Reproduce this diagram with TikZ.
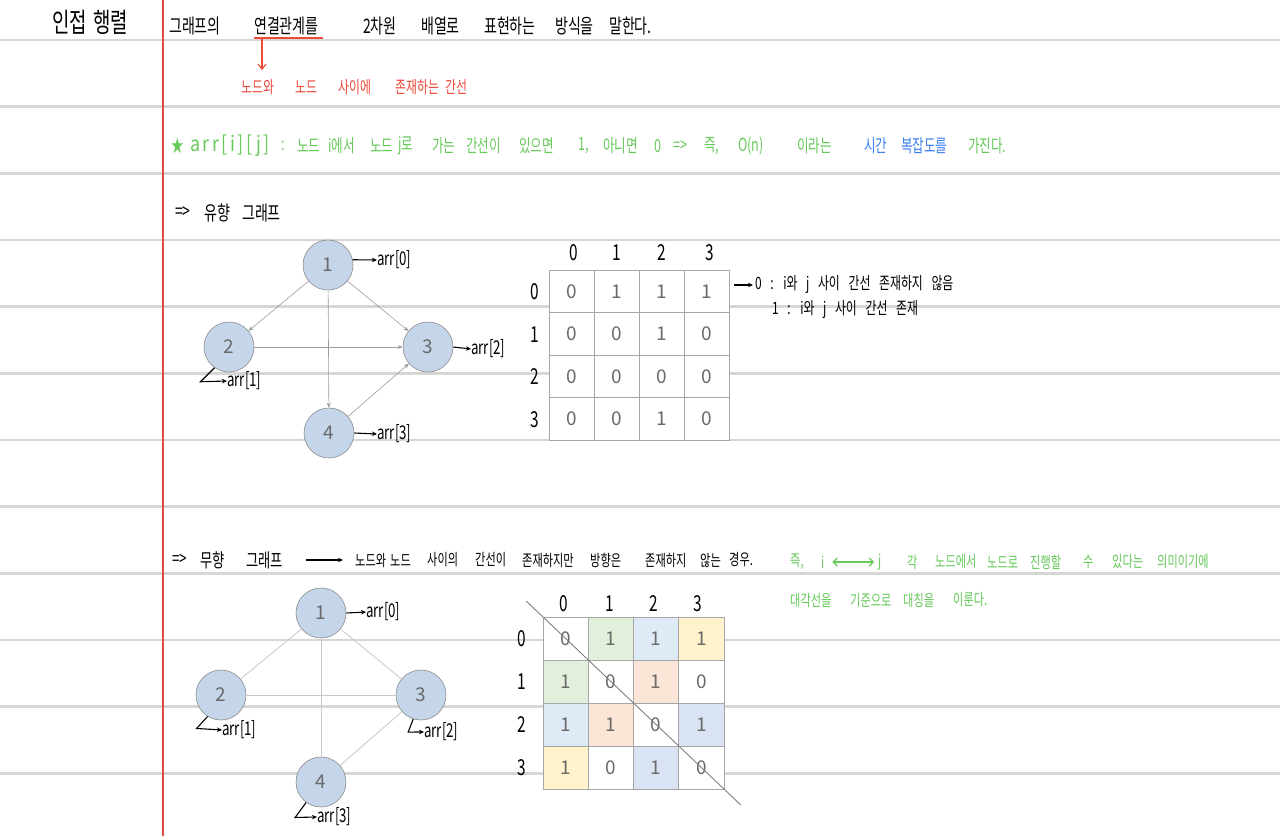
\documentclass[tikz,border=0pt]{standalone}
\usepackage{fontspec}
\setmainfont{Noto Sans CJK KR}
\newfontfamily\hand[FakeStretch=0.7]{Noto Sans CJK KR}
\newfontfamily\handsp[FakeStretch=0.7,WordSpace=1.8]{Noto Sans CJK KR}
\newfontfamily\handwide[FakeStretch=0.85,LetterSpace=12]{Noto Sans CJK KR}
\usetikzlibrary{arrows.meta,calc}

\definecolor{ruleline}{HTML}{D6D6D6}
\definecolor{margin}{HTML}{E04B3C}
\definecolor{notered}{HTML}{EE4A3A}
\definecolor{notegreen}{HTML}{66C95A}
\definecolor{noteblue}{HTML}{3C7FF0}
\definecolor{nodefill}{HTML}{C5D6EA}
\definecolor{nodeline}{HTML}{8C8C8C}
\definecolor{numgray}{HTML}{6A6A6A}
\definecolor{edgegray}{HTML}{9C9C9C}
\definecolor{ledgegray}{HTML}{C8C8C8}
\definecolor{cellline}{HTML}{A6A6A6}
\definecolor{cgreen}{HTML}{E2EFDA}
\definecolor{cblue}{HTML}{DEEBF7}
\definecolor{cyellow}{HTML}{FFF2CC}
\definecolor{cpeach}{HTML}{FBE5D6}
\definecolor{clav}{HTML}{DAE3F3}

\begin{document}
\begin{tikzpicture}[x=1pt,y=-1pt,
  ruled/.style={ruleline, line width=2.5pt},
  word/.style={anchor=west, inner sep=0pt},
  gnode/.style={circle, fill=nodefill, draw=nodeline, line width=0.6pt, minimum size=50pt, inner sep=0pt, text=numgray, font=\fontsize{19}{19}\selectfont},
  cell/.style={draw=cellline, line width=0.8pt, fill=white, text=numgray, inner sep=0pt, font=\fontsize{19}{19}\selectfont},
  idx/.style={inner sep=0pt, font=\hand\fontsize{22}{22}\selectfont},
  arrlbl/.style={anchor=west, inner sep=0pt, font=\hand\fontsize{19}{19}\selectfont},
  tag/.style={line width=1.1pt, -{Stealth[length=5pt,width=4.5pt]}},
  dedge/.style={draw=edgegray, line width=0.6pt, -{Stealth[length=5pt,width=4pt]}},
  uedge/.style={draw=ledgegray, line width=0.8pt}]

\useasboundingbox (0,0) rectangle (1280,836);
\fill[white] (0,0) rectangle (1280,836);

%%%%%%%%% notebook lines
\foreach[evaluate={\y=40+66.667*\k}] \k in {0,...,11}
	\draw[ruled] (0,\y) -- (1280,\y);
\draw[margin, line width=2.5pt] (163,0) -- (163,836);

%%%%%%%%% title + first line
\foreach \x/\w [count=\i] in {52/인접, 93/행렬}
	\node[word, font=\hand\fontsize{27}{27}\selectfont] (ttl\i) at (\x,22) {\w};
\foreach \x/\w [count=\i] in {169/그래프의, 254/연결관계를, 363/2차원, 421/배열로, 484/표현하는, 555/방식을, 609/말한다.}
	\node[word, font=\hand\fontsize{20}{20}\selectfont] (ln\i) at (\x,26) {\w};

%%% red note
\coordinate (ul1) at (254,38);
\coordinate (ul2) at (323,38);
\coordinate (ua) at (262,39);
\coordinate (ub) at (262,70);
\draw[notered, line width=1.1pt] (ul1) -- (ul2);
\draw[notered, line width=1.1pt, -{Straight Barb[length=5pt,width=8pt]}] (ua) -- (ub);
\foreach \x/\w [count=\i] in {241/노드와, 295/노드, 338/사이에, 395/존재하는, 445/간선}
	\node[word, text=notered, font=\hand\fontsize{17}{17}\selectfont] (rd\i) at (\x,87) {\w};

%%%%%%%%% green line
\node[word, text=notegreen, font=\handwide\fontsize{21}{21}\selectfont] (arrij) at (190,146) {arr[i][j]};
\foreach \x/\w [count=\i] in {171/★, 281/:, 297/노드, 328/i에서, 370/노드, 398/j로, 432/가는, 466/간선이, 519/있으면, 578/{1,}, 603/아니면, 654/0, 673/=>, 704/{즉,}, 738/O(n), 797/이라는}
	\node[word, text=notegreen, font=\hand\fontsize{18}{18}\selectfont] (gr\i) at (\x,146) {\w};
\node[word, text=noteblue, font=\hand\fontsize{18}{18}\selectfont] (bl1) at (864,146) {시간};
\node[word, text=noteblue, font=\hand\fontsize{18}{18}\selectfont] (bl2) at (901,146) {복잡도를};
\node[word, text=notegreen, font=\hand\fontsize{18}{18}\selectfont] (gr17) at (968,146) {가진다.};

%%%%%%%%% directed graph
\foreach \x/\w [count=\i] in {175/=>, 204/유향, 242/그래프}
	\node[word, font=\hand\fontsize{20}{20}\selectfont] (dh\i) at (\x,213) {\w};

\node[gnode] (t1) at (328,265) {1};
\node[gnode] (t2) at (229,347) {2};
\node[gnode] (t3) at (428,347) {3};
\node[gnode] (t4) at (329,433) {4};
\draw[dedge] (t1) -- (t2);
\draw[dedge] (t1) -- (t3);
\draw[dedge] (t1) -- (t4);
\draw[dedge] (t2) -- (t3);
\draw[dedge] (t4) -- (t3);

\node[arrlbl] (a0) at (377,260) {arr[0]};
\node[arrlbl] (a1) at (227,381) {arr[1]};
\node[arrlbl] (a2) at (471,349) {arr[2]};
\node[arrlbl] (a3) at (377,434) {arr[3]};
\draw[tag] (t1.12) -- (a0.west);
\draw[tag] (t2.235) -- ++(-14,14) -- (a1.west);
\draw[tag] (t3.east) -- (a2.west);
\draw[tag] (t4.east) -- (a3.west);

%%% matrix 1
\foreach \row [count=\r from 0] in {{0,1,1,1},{0,0,1,0},{0,0,0,0},{0,0,1,0}}
\foreach \v [count=\c from 0] in \row
	\node[cell, minimum width=45pt, minimum height=42.5pt] (p\r\c) at ({549+45*(\c+0.5)},{270+42.5*(\r+0.5)}) {\v};
\foreach \x/\t in {574/0, 617/1, 662/2, 710/3}
	\node[idx] (pc\t) at (\x,253) {\t};
\foreach \y/\t in {292/0, 335/1, 377/2, 420/3}
	\node[idx] (pr\t) at (535,\y) {\t};

\node[word, font=\handsp\fontsize{17}{17}\selectfont] (n0) at (755,285) {0 : i와 j 사이 간선 존재하지 않음};
\node[word, font=\handsp\fontsize{17}{17}\selectfont] (n1) at (772,310) {1 : i와 j 사이 간선 존재};
\draw[tag] ([xshift=5pt]p03.east |- n0.west) -- ([xshift=-2pt]n0.west);

%%%%%%%%% undirected graph
\foreach \x/\w [count=\i] in {172/=>, 200/무향, 246/그래프}
	\node[word, font=\hand\fontsize{19}{19}\selectfont] (uh\i) at (\x,560) {\w};
\foreach \x/\w [count=\i] in {355/노드와, 390/노드, 427/사이의, 475/간선이, 522/존재하지만, 590/방향은, 645/존재하지, 700/않는, 729/경우.}
	\node[word, font=\hand\fontsize{16}{16}\selectfont] (ut\i) at (\x,560) {\w};
\coordinate (ua1) at (306,560);
\draw[tag] (ua1) -- ([xshift=-12pt]ut1.west);

\foreach \x/\w [count=\i] in {790/{즉,}, 821/i}
	\node[word, text=notegreen, font=\hand\fontsize{16}{16}\selectfont] (ug\i) at (\x,562) {\w};
\foreach \x/\w [count=\i] in {878/j, 907/각, 935/노드에서, 987/노드로, 1030/진행할, 1083/수, 1112/있다는, 1157/의미이기에}
	\node[word, text=notegreen, font=\hand\fontsize{16}{16}\selectfont] (uj\i) at (\x,562) {\w};
\draw[notegreen, line width=1.1pt, {Straight Barb[length=4pt,width=8pt]}-{Straight Barb[length=4pt,width=8pt]}] ([xshift=8pt]ug2.east) -- ([xshift=-4pt]uj1.west);
\foreach \x/\w [count=\i] in {790/대각선을, 850/기준으로, 903/대칭을, 953/이룬다.}
	\node[word, text=notegreen, font=\hand\fontsize{16}{16}\selectfont] (uk\i) at (\x,600) {\w};

\node[gnode] (u1) at (321,613) {1};
\node[gnode] (u2) at (221,695) {2};
\node[gnode] (u3) at (421,695) {3};
\node[gnode] (u4) at (321,782) {4};
\draw[uedge] (u1) -- (u2);
\draw[uedge] (u1) -- (u3);
\draw[uedge] (u1) -- (u4);
\draw[uedge] (u2) -- (u3);
\draw[uedge] (u3) -- (u4);

\node[arrlbl] (b0) at (366,612) {arr[0]};
\node[arrlbl] (b1) at (222,730) {arr[1]};
\node[arrlbl] (b2) at (424,732) {arr[2]};
\node[arrlbl] (b3) at (317,817) {arr[3]};
\draw[tag] (u1.east) -- (b0.west);
\draw[tag] (u2.238) -- ++(-11,12) -- (b1.west);
\draw[tag] (u3.252) -- ++(-5,13) -- (b2.west);
\draw[tag] (u4.234) -- ++(-11,15) -- (b3.west);

%%% matrix 2 (symmetric)
\foreach \row [count=\r from 0] in {{0/white,1/cgreen,1/cblue,1/cyellow},{1/cgreen,0/white,1/cpeach,0/white},{1/cblue,1/cpeach,0/white,1/clav},{1/cyellow,0/white,1/clav,0/white}}
\foreach \v/\f [count=\c from 0] in \row
	\node[cell, fill=\f, minimum width=45.25pt, minimum height=43pt] (q\r\c) at ({543+45.25*(\c+0.5)},{617+43*(\r+0.5)}) {\v};
\foreach \x/\t in {564/0, 610/1, 654/2, 698/3}
	\node[idx] (qc\t) at (\x,604) {\t};
\foreach \y/\t in {639/0, 682/1, 725/2, 768/3}
	\node[idx] (qr\t) at (522,\y) {\t};
\draw[gray, line width=0.9pt] ($(q00.north west)!-0.09!(q33.south east)$) -- ($(q00.north west)!1.09!(q33.south east)$);

\end{tikzpicture}
\end{document}
